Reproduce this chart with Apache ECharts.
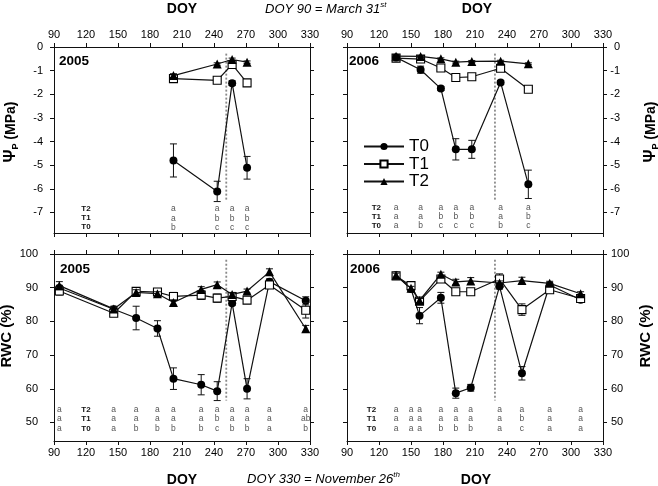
<!DOCTYPE html>
<html><head><meta charset="utf-8">
<script src="https://cdn.jsdelivr.net/npm/echarts@6/dist/echarts.min.js"></script>
<style>html,body{margin:0;padding:0;background:#fff}#c{width:658px;height:486px}</style>
</head><body><div id="c"></div>
<script>
// ---------- DATA ----------
const xTicks = [90,120,150,180,210,240,270,300,330];
const psiTicks = [0,-1,-2,-3,-4,-5,-6,-7];
const rwcTicks = [50,60,70,80,90,100];

// 2005 predawn water potential (MPa)
const psiDoy2005 = [202, 243, 257, 271];
const psiT0_2005 = [-4.80, -6.11, -1.53, -5.11];
const psiT0err_2005 = [0.70, 0.43, 0.10, 0.48];
const psiT1_2005 = [-1.34, -1.41, -0.74, -1.52];
const psiT1err_2005 = [0.06, 0.05, 0.05, 0.08];
const psiT2_2005 = [-1.21, -0.72, -0.53, -0.64];
const psiT2err_2005 = [0.08, 0.05, 0.06, 0.05];
const psiLetT2_2005 = ['a','a','a','a'];
const psiLetT1_2005 = ['a','b','b','b'];
const psiLetT0_2005 = ['b','c','c','c'];

// 2006 predawn water potential (MPa)
const psiDoy2006 = [136, 159, 178, 192, 207, 234, 260];
const psiT0_2006 = [-0.44, -0.96, -1.76, -4.33, -4.33, -1.50, -5.81];
const psiT0err_2006 = [0.05, 0.15, 0.08, 0.45, 0.38, 0.08, 0.60];
const psiT1_2006 = [-0.47, -0.51, -0.89, -1.29, -1.26, -0.90, -1.79];
const psiT1err_2006 = [0.04, 0.04, 0.05, 0.05, 0.05, 0.07, 0.07];
const psiT2_2006 = [-0.39, -0.40, -0.50, -0.64, -0.61, -0.60, -0.71];
const psiT2err_2006 = [0.04, 0.04, 0.04, 0.04, 0.04, 0.04, 0.04];
const psiLetT2_2006 = ['a','a','a','a','a','a','a'];
const psiLetT1_2006 = ['a','a','b','b','b','a','b'];
const psiLetT0_2006 = ['a','b','c','c','c','b','c'];

// 2005 relative water content (%)
const rwcDoy2005 = [95, 146, 167, 187, 202, 228, 243, 257, 271, 292, 326];
const rwcT0_2005 = [89.9, 83.6, 81.0, 77.9, 63.0, 61.2, 59.3, 85.4, 60.0, 91.8, 86.1];
const rwcT0err_2005 = [0.8, 0.6, 3.5, 2.3, 3.2, 3.0, 2.8, 0.6, 3.0, 0.8, 1.2];
const rwcT1_2005 = [89.0, 82.4, 88.9, 88.7, 87.4, 87.8, 86.9, 87.4, 86.3, 90.8, 83.3];
const rwcT1err_2005 = [1.2, 0.6, 0.6, 0.6, 1.2, 1.3, 1.2, 0.6, 0.6, 1.0, 2.3];
const rwcT2_2005 = [90.6, 83.7, 88.6, 88.2, 85.6, 89.5, 90.9, 88.0, 89.0, 94.7, 77.8];
const rwcT2err_2005 = [1.2, 0.8, 0.8, 0.6, 0.8, 0.8, 0.8, 0.6, 0.6, 0.9, 1.0];
const rwcLetT2_2005 = ['a','a','a','a','a','a','a','a','a','a','a'];
const rwcLetT1_2005 = ['a','a','a','a','a','a','b','a','a','a','ab'];
const rwcLetT0_2005 = ['a','a','b','b','b','b','c','b','b','a','b'];

// 2006 relative water content (%)
const rwcDoy2006 = [136, 150, 158, 178, 192, 206, 233, 254, 280, 309];
const rwcT0_2006 = [93.7, 89.6, 81.7, 87.0, 58.7, 60.3, 90.4, 64.6, 90.8, 86.4];
const rwcT0err_2006 = [0.6, 0.8, 2.4, 1.6, 1.5, 1.0, 0.8, 2.0, 0.6, 0.6];
const rwcT1_2006 = [93.5, 90.6, 86.0, 92.6, 88.8, 88.8, 92.6, 83.5, 89.4, 86.8];
const rwcT1err_2006 = [0.6, 0.8, 0.6, 0.8, 0.8, 0.8, 1.5, 1.7, 0.6, 0.6];
const rwcT2_2006 = [93.7, 89.8, 86.2, 94.0, 91.7, 92.0, 91.4, 92.1, 91.3, 88.2];
const rwcT2err_2006 = [0.6, 0.6, 0.6, 0.6, 0.8, 1.0, 0.6, 1.0, 0.6, 0.6];
const rwcLetT2_2006 = ['a','a','a','a','a','a','a','a','a','a'];
const rwcLetT1_2006 = ['a','a','a','a','a','a','a','b','a','a'];
const rwcLetT0_2006 = ['a','a','a','b','b','b','a','c','a','a'];

// vertical dotted markers (DOY)
const dividerDoy2005 = 251.5;
const dividerDoy2006 = 228.7;
const psiDividerRange = [-0.28, -6.5];
const rwcDividerRange = [98.3, 56.5];

// ---------- LAYOUT ----------
const FF = 'Liberation Sans, Arial, Helvetica, sans-serif';
const grids = [
  {left:54, top:47, width:256, height:186},   // 0 top-left  2005 psi
  {left:347, top:47, width:256, height:186},  // 1 top-right 2006 psi
  {left:54, top:254, width:256, height:187},  // 2 bottom-left 2005 rwc
  {left:347, top:254, width:256, height:187}  // 3 bottom-right 2006 rwc
];
const PSI_MIN = -7.87, RWC_MIN = 44.5;

const chart = echarts.init(document.getElementById('c'), null, {renderer:'canvas'});

const xAxes = [], yAxes = [];
function xAx(g, pos, labels, margin){
  return {type:'value', gridIndex:g, position:pos, min:90, max:330, interval:30,
    axisLine:{show:true, onZero:false, lineStyle:{color:'#111', width:1}},
    axisTick:{show:true, inside:false, length:4, lineStyle:{color:'#111', width:1}},
    axisLabel:{show:labels, margin:margin, fontSize:11, color:'#000', fontFamily:FF},
    splitLine:{show:false}};
}
function yAx(g, pos, labels, isPsi, margin, align){
  const ticks = isPsi ? psiTicks : rwcTicks;
  const lab = {show:labels, margin:margin, fontSize:11, color:'#000', fontFamily:FF, customValues:ticks};
  if (align) lab.align = align;
  return {type:'value', gridIndex:g, position:pos, min:isPsi?PSI_MIN:RWC_MIN, max:isPsi?0:100,
    axisLine:{show:true, onZero:false, lineStyle:{color:'#111', width:1}},
    axisTick:{show:true, inside:false, length:4, customValues:ticks, lineStyle:{color:'#111', width:1}},
    axisLabel:lab, splitLine:{show:false}};
}
// grid 0
xAxes.push(xAx(0,'top',true,7), xAx(0,'bottom',false,6));
yAxes.push(yAx(0,'left',true,true,11), yAx(0,'right',false,true,8));
// grid 1
xAxes.push(xAx(1,'top',true,7), xAx(1,'bottom',false,6));
yAxes.push(yAx(1,'right',true,true,17,'right'), yAx(1,'left',false,true,8));
// grid 2
xAxes.push(xAx(2,'bottom',true,6), xAx(2,'top',false,6));
yAxes.push(yAx(2,'left',true,false,16), yAx(2,'right',false,false,8));
// grid 3
xAxes.push(xAx(3,'bottom',true,6), xAx(3,'top',false,6));
yAxes.push(yAx(3,'right',true,false,8), yAx(3,'left',false,false,8));

const series = [];
const zip = (a,b) => a.map((v,i)=>[v,b[i]]);
const styles = {
  T0:{symbol:'circle', symbolSize:8, itemStyle:{color:'#000', borderColor:'#000', borderWidth:0}},
  T1:{symbol:'rect', symbolSize:8, itemStyle:{color:'#fff', borderColor:'#000', borderWidth:1.1}},
  T2:{symbol:'triangle', symbolSize:9, itemStyle:{color:'#000', borderColor:'#000', borderWidth:0}}
};
function addLine(g, name, xs, ys, errs, z){
  const st = styles[name];
  series.push({type:'custom', name:name+'_err'+g, xAxisIndex:2*g, yAxisIndex:2*g, silent:true, z:z,
    encode:{x:0, y:[1,2]},
    data: xs.map((x,i)=>[x, ys[i]-errs[i], ys[i]+errs[i]]),
    renderItem:(p, api)=>{
      const lo = api.coord([api.value(0), api.value(1)]);
      const hi = api.coord([api.value(0), api.value(2)]);
      const w = 3.5, s = {stroke:'#111', lineWidth:1};
      return {type:'group', children:[
        {type:'line', shape:{x1:lo[0],y1:lo[1],x2:hi[0],y2:hi[1]}, style:s},
        {type:'line', shape:{x1:lo[0]-w,y1:lo[1],x2:lo[0]+w,y2:lo[1]}, style:s},
        {type:'line', shape:{x1:hi[0]-w,y1:hi[1],x2:hi[0]+w,y2:hi[1]}, style:s}
      ]};
    }});
  series.push({type:'line', name:name, xAxisIndex:2*g, yAxisIndex:2*g, z:z+1,
    data: zip(xs, ys), symbol:st.symbol, symbolSize:st.symbolSize, itemStyle:st.itemStyle,
    lineStyle:{color:'#111', width:1.2}, emphasis:{disabled:true}, animation:false});
}
function addDivider(g, doy, range){
  series.push({type:'line', name:'div'+g, xAxisIndex:2*g, yAxisIndex:2*g, z:1, silent:true,
    data:[[doy, range[0]],[doy, range[1]]], symbol:'none',
    lineStyle:{color:'#8a8a8a', width:1.8, type:[2,2]}, animation:false});
}
// letters: row offsets (px above the plot bottom) for T2, T1, T0
function addLetters(g, doys, rows, offsets, labelDoy){
  const names = ['T2','T1','T0'];
  const items = [];
  rows.forEach((row, r)=>{
    items.push({x:labelDoy, r:r, t:names[r], bold:true});
    row.forEach((t,i)=> items.push({x:doys[i], r:r, t:t, bold:false}));
  });
  series.push({type:'custom', name:'let'+g, xAxisIndex:2*g, yAxisIndex:2*g, silent:true, z:5,
    data: items.map(it=>[it.x, g<2?PSI_MIN:RWC_MIN]),
    renderItem:(p, api)=>{
      const it = items[p.dataIndex];
      const pt = api.coord([api.value(0), api.value(1)]);
      return {type:'text', x:pt[0], y:pt[1]-offsets[it.r], style:{
        text:it.t, fill: it.bold ? '#111' : '#555', fontFamily:FF,
        fontSize: it.bold ? 8 : 8.5, fontWeight: it.bold ? 'bold' : 'normal',
        align:'center', verticalAlign:'middle'}};
    }});
}

// grid 0: 2005 psi
addDivider(0, dividerDoy2005, psiDividerRange);
addLine(0,'T1',psiDoy2005,psiT1_2005,psiT1err_2005,2);
addLine(0,'T2',psiDoy2005,psiT2_2005,psiT2err_2005,4);
addLine(0,'T0',psiDoy2005,psiT0_2005,psiT0err_2005,6);
addLetters(0, psiDoy2005, [psiLetT2_2005, psiLetT1_2005, psiLetT0_2005], [24, 14.8, 5.8], 120);
// grid 1: 2006 psi
addDivider(1, dividerDoy2006, psiDividerRange);
addLine(1,'T1',psiDoy2006,psiT1_2006,psiT1err_2006,2);
addLine(1,'T2',psiDoy2006,psiT2_2006,psiT2err_2006,4);
addLine(1,'T0',psiDoy2006,psiT0_2006,psiT0err_2006,6);
addLetters(1, psiDoy2006, [psiLetT2_2006, psiLetT1_2006, psiLetT0_2006], [25.7, 16.3, 7], 117.5);
// grid 2: 2005 rwc
addDivider(2, dividerDoy2005, rwcDividerRange);
addLine(2,'T0',rwcDoy2005,rwcT0_2005,rwcT0err_2005,2);
addLine(2,'T1',rwcDoy2005,rwcT1_2005,rwcT1err_2005,4);
addLine(2,'T2',rwcDoy2005,rwcT2_2005,rwcT2err_2005,6);
addLetters(2, rwcDoy2005, [rwcLetT2_2005, rwcLetT1_2005, rwcLetT0_2005], [31, 22, 12.7], 120);
// grid 3: 2006 rwc
addDivider(3, dividerDoy2006, rwcDividerRange);
addLine(3,'T0',rwcDoy2006,rwcT0_2006,rwcT0err_2006,2);
addLine(3,'T1',rwcDoy2006,rwcT1_2006,rwcT1err_2006,4);
addLine(3,'T2',rwcDoy2006,rwcT2_2006,rwcT2err_2006,6);
addLetters(3, rwcDoy2006, [rwcLetT2_2006, rwcLetT1_2006, rwcLetT0_2006], [31, 22, 12.7], 113);

const bold14 = {fontFamily:FF, fontWeight:'bold', fontSize:14, fill:'#000'};
function txt(x, y, text, extra){
  return {type:'text', x:x, y:y, silent:true, style:Object.assign({text:text, align:'center', verticalAlign:'middle'}, bold14, extra||{})};
}
const psiRich = {
  g:{fontFamily:FF, fontWeight:'bold', fontSize:16, lineHeight:18},
  s:{fontFamily:FF, fontWeight:'bold', fontSize:9, lineHeight:9, verticalAlign:'bottom'},
  m:{fontFamily:FF, fontWeight:'bold', fontSize:14, lineHeight:18}
};
const supRich = {
  n:{fontFamily:FF, fontStyle:'italic', fontSize:13, lineHeight:16, fill:'#000'},
  s:{fontFamily:FF, fontStyle:'italic', fontSize:8, lineHeight:8, verticalAlign:'top', fill:'#000'}
};
const graphics = [
  txt(182, 9, 'DOY'), txt(477, 9, 'DOY'),
  txt(182, 480, 'DOY'), txt(476, 480, 'DOY'),
  {type:'text', x:265, y:9, silent:true, style:{text:'{n|DOY 90 = March 31}{s|st}', rich:supRich, align:'left', verticalAlign:'middle'}},
  {type:'text', x:247, y:479, silent:true, style:{text:'{n|DOY 330 = November 26}{s|th}', rich:supRich, align:'left', verticalAlign:'middle'}},
  txt(59, 61, '2005', {align:'left', fontSize:13.5}),
  txt(349, 61, '2006', {align:'left', fontSize:13.5}),
  txt(60, 269, '2005', {align:'left', fontSize:13.5}),
  txt(350, 269, '2006', {align:'left', fontSize:13.5}),
  {type:'text', x:11, y:132, rotation:Math.PI/2, silent:true, style:{text:'{g|Ψ}{s|P}{m| (MPa)}', rich:psiRich, align:'center', verticalAlign:'middle', fill:'#000'}},
  {type:'text', x:651, y:132, rotation:Math.PI/2, silent:true, style:{text:'{g|Ψ}{s|P}{m| (MPa)}', rich:psiRich, align:'center', verticalAlign:'middle', fill:'#000'}},
  {type:'text', x:7, y:336, rotation:Math.PI/2, silent:true, style:Object.assign({text:'RWC (%)', align:'center', verticalAlign:'middle'}, bold14, {fontSize:15})},
  {type:'text', x:646, y:336, rotation:Math.PI/2, silent:true, style:Object.assign({text:'RWC (%)', align:'center', verticalAlign:'middle'}, bold14, {fontSize:15})}
];

chart.setOption({
  animation:false,
  backgroundColor:'#fff',
  grid: grids,
  xAxis: xAxes,
  yAxis: yAxes,
  legend:{data:['T0','T1','T2'], orient:'vertical', left:358, top:133, itemWidth:40, itemHeight:9,
    itemGap:0.5, selectedMode:false, textStyle:{fontFamily:FF, fontSize:17, color:'#000'}},
  series: series,
  graphic: graphics
});
</script>
</body></html>
